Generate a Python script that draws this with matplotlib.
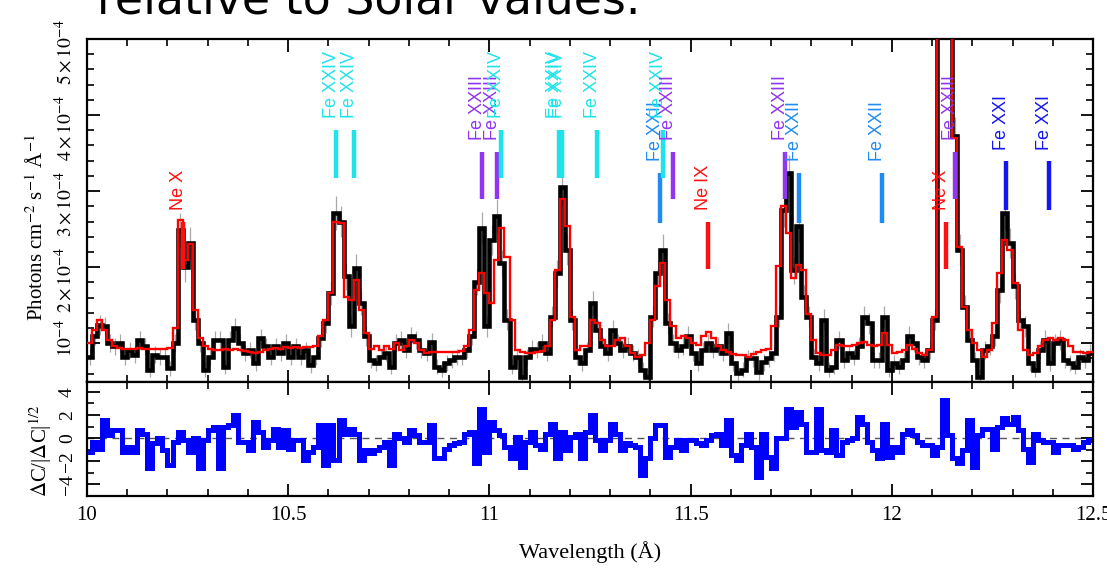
import numpy as np
import matplotlib
matplotlib.use('Agg')
import matplotlib.pyplot as plt
from matplotlib.ticker import MultipleLocator, FixedLocator
from matplotlib.transforms import ScaledTranslation

plt.rcParams['mathtext.fontset'] = 'stix'

# ---- data (flux in units of 1e-4 photons cm^-2 s^-1 A^-1) ----
wl_start = 10.0
bin_width = 0.0125

flux = [0.82, 1.09, 1.24, 1.22, 1.00, 0.96, 1.00, 0.82, 0.91, 0.85,
        1.04, 0.96, 0.65, 0.85, 0.82, 0.82, 0.67, 1.00, 2.49, 2.00,
        2.32, 1.31, 1.00, 0.65, 0.82, 1.04, 1.04, 0.69, 1.04, 1.20,
        1.00, 0.87, 0.91, 0.74, 1.07, 0.96, 0.82, 0.96, 0.87, 1.00,
        0.82, 0.96, 0.82, 0.91, 0.71, 0.82, 1.07, 1.26, 1.66, 2.71,
        2.60, 1.88, 1.22, 1.99, 1.53, 1.09, 0.78, 0.74, 0.82, 0.87,
        0.69, 1.00, 1.04, 0.91, 1.09, 1.04, 0.91, 0.87, 1.02, 0.69,
        0.65, 0.74, 0.78, 0.82, 0.82, 0.91, 1.09, 1.80, 2.52, 1.22,
        2.36, 2.67, 2.05, 1.31, 0.69, 0.82, 0.56, 0.82, 0.93, 0.91,
        1.00, 0.87, 1.35, 1.92, 3.06, 2.23, 1.31, 0.82, 0.74, 0.91,
        1.53, 1.18, 0.96, 0.87, 1.18, 1.00, 0.91, 0.96, 0.87, 0.82,
        0.65, 0.56, 1.35, 1.92, 2.23, 1.26, 1.00, 0.91, 0.96, 1.09,
        0.87, 0.74, 0.91, 1.00, 0.91, 0.96, 0.87, 1.13, 0.74, 0.61,
        0.65, 0.80, 0.80, 0.62, 0.75, 0.80, 0.87, 1.35, 2.75, 3.24,
        1.96, 2.54, 1.61, 1.35, 0.82, 0.74, 1.31, 0.65, 0.69, 1.04,
        0.78, 0.87, 0.82, 0.96, 1.35, 1.26, 0.78, 0.78, 1.35, 0.65,
        0.74, 0.69, 0.78, 1.09, 1.00, 0.82, 0.78, 0.91, 1.31, 6.00,
        6.00, 6.00, 3.72, 2.23, 1.48, 1.04, 0.78, 0.56, 0.91, 0.96,
        1.09, 1.70, 2.71, 2.32, 1.75, 1.31, 1.22, 0.74, 0.65, 0.91,
        1.04, 0.74, 1.00, 1.04, 0.78, 0.74, 0.69, 0.82, 0.78, 0.87]

flux_err = [0.11, 0.12, 0.13, 0.13, 0.12, 0.11, 0.12, 0.11, 0.11, 0.11,
            0.12, 0.11, 0.10, 0.11, 0.11, 0.11, 0.10, 0.12, 0.22, 0.20,
            0.21, 0.14, 0.12, 0.10, 0.11, 0.12, 0.12, 0.10, 0.12, 0.13,
            0.12, 0.11, 0.11, 0.10, 0.12, 0.11, 0.11, 0.11, 0.11, 0.12,
            0.11, 0.11, 0.11, 0.11, 0.10, 0.11, 0.12, 0.13, 0.16, 0.22,
            0.21, 0.18, 0.14, 0.18, 0.16, 0.13, 0.11, 0.10, 0.11, 0.11,
            0.10, 0.12, 0.12, 0.11, 0.12, 0.12, 0.11, 0.11, 0.12, 0.10,
            0.10, 0.10, 0.11, 0.11, 0.11, 0.11, 0.12, 0.17, 0.21, 0.14,
            0.20, 0.22, 0.18, 0.14, 0.10, 0.11, 0.09, 0.11, 0.11, 0.11,
            0.12, 0.11, 0.14, 0.18, 0.24, 0.20, 0.14, 0.11, 0.10, 0.11,
            0.16, 0.13, 0.12, 0.11, 0.13, 0.12, 0.11, 0.12, 0.11, 0.11,
            0.10, 0.09, 0.14, 0.18, 0.20, 0.14, 0.12, 0.11, 0.12, 0.13,
            0.11, 0.10, 0.11, 0.12, 0.11, 0.12, 0.11, 0.13, 0.10, 0.10,
            0.10, 0.11, 0.11, 0.10, 0.11, 0.11, 0.11, 0.14, 0.22, 0.24,
            0.18, 0.21, 0.16, 0.14, 0.11, 0.10, 0.14, 0.10, 0.10, 0.12,
            0.11, 0.11, 0.11, 0.12, 0.14, 0.14, 0.11, 0.11, 0.14, 0.10,
            0.11, 0.10, 0.11, 0.13, 0.12, 0.11, 0.11, 0.12, 0.14, 0.35,
            0.35, 0.35, 0.25, 0.20, 0.16, 0.13, 0.11, 0.10, 0.12, 0.12,
            0.13, 0.17, 0.22, 0.20, 0.17, 0.14, 0.14, 0.11, 0.10, 0.12,
            0.13, 0.11, 0.12, 0.13, 0.11, 0.11, 0.10, 0.11, 0.11, 0.12]

model = [1.00, 1.18, 1.31, 1.18, 1.04, 0.96, 0.94, 0.93, 0.93, 0.93,
         0.94, 0.93, 0.93, 0.92, 0.93, 0.93, 0.94, 1.20, 2.62, 2.10,
         2.30, 1.44, 1.07, 0.96, 0.92, 0.91, 0.91, 0.92, 0.91, 0.92,
         0.91, 0.90, 0.88, 0.87, 0.89, 0.91, 0.93, 0.94, 0.93, 0.95,
         0.94, 0.95, 0.94, 0.95, 0.95, 0.96, 1.09, 1.31, 1.66, 2.60,
         2.58, 1.61, 1.57, 1.83, 1.44, 1.13, 0.93, 0.96, 0.91, 0.96,
         0.93, 1.00, 0.91, 0.96, 1.04, 1.00, 0.91, 0.87, 0.88, 0.88,
         0.88, 0.88, 0.88, 0.89, 0.90, 0.96, 1.18, 1.70, 1.92, 1.66,
         1.53, 2.10, 2.52, 2.14, 1.31, 0.91, 0.88, 0.87, 0.87, 0.88,
         0.90, 0.96, 1.31, 1.96, 2.89, 2.54, 1.35, 0.91, 0.96, 0.96,
         1.31, 1.26, 1.04, 0.96, 0.96, 1.04, 1.07, 0.96, 0.87, 0.82,
         0.85, 1.00, 1.31, 1.75, 2.05, 1.57, 1.22, 1.07, 1.09, 1.07,
         1.00, 0.98, 1.09, 1.15, 1.07, 0.96, 0.91, 0.89, 0.86, 0.85,
         0.85, 0.82, 0.86, 0.88, 0.91, 0.93, 1.22, 2.01, 2.80, 2.45,
         1.86, 2.03, 1.96, 1.39, 1.04, 0.87, 0.85, 0.85, 0.91, 0.98,
         0.96, 0.96, 0.98, 1.00, 1.02, 0.98, 0.96, 0.98, 1.13, 0.98,
         0.87, 0.89, 0.91, 0.98, 0.93, 0.87, 0.85, 0.91, 1.35, 6.50,
         7.00, 6.50, 3.70, 2.27, 1.48, 1.18, 1.00, 0.91, 0.82, 0.91,
         1.26, 1.92, 2.36, 2.23, 1.79, 1.18, 0.91, 0.85, 0.87, 0.96,
         1.04, 1.07, 1.04, 1.07, 1.04, 0.96, 0.89, 0.89, 0.87, 0.89]

resid = [-1.20, -0.30, -0.90, 1.55, 0.26, 0.69, 0.69, -1.18, -0.75, -1.18,
         0.69, 0.40, -2.60, -0.46, 0.00, -1.03, -2.33, -0.30, 0.55, -0.17,
         -1.18, 0.00, -2.60, -0.17, 0.69, 0.98, -2.60, 0.98, 1.12, 1.98,
         -0.30, -0.30, -1.03, 1.41, 0.55, -0.75, -0.17, 0.83, -0.75, 0.69,
         -0.90, -0.17, -0.17, -1.90, -1.18, -0.75, 1.12, -2.33, 1.12, -1.90,
         1.55, 0.40, 0.83, 0.40, -1.90, -1.03, -1.32, -1.03, -0.75, -0.30,
         -2.33, 0.40, 0.00, -0.30, 0.69, 0.26, -0.30, -0.30, 1.12, -1.75,
         -1.75, -0.90, -0.60, -0.46, -0.30, 0.40, 0.55, -2.18, 2.56, -1.18,
         1.41, 0.69, 0.26, -0.75, -1.75, 0.11, -2.47, -0.30, 0.55, -0.60,
         -0.90, 0.40, 1.26, -1.75, 0.55, -1.03, 0.11, 0.40, -1.75, 0.55,
         1.98, -0.17, -1.03, -0.17, 1.26, 0.40, -1.03, -0.46, -0.60, -0.75,
         -3.19, -1.75, 0.00, 1.12, 1.12, -1.60, -0.75, -0.17, -1.03, -0.17,
         -0.17, -0.46, -0.60, -0.17, 0.26, 0.40, -0.60, 1.55, -1.47, -1.90,
         -0.60, 0.40, -0.75, -3.33, 0.40, -1.60, -2.60, 0.00, 0.00, 2.56,
         1.00, 2.27, 1.26, -1.18, -1.18, 2.56, -1.03, -1.18, 0.69, -1.47,
         -0.30, -0.17, 0.00, 1.84, 1.26, -0.30, -1.03, -1.75, 1.26, -1.60,
         -0.75, -1.18, 0.40, 0.69, 0.26, -0.30, -0.60, -0.60, -1.47, -0.75,
         3.28, 0.26, -1.75, -2.18, -1.03, 1.55, -2.47, 0.26, 0.83, 0.83,
         -0.90, 0.98, 1.70, 1.26, 1.84, 0.69, -0.90, -2.04, 0.40, -0.17,
         -0.30, -0.30, -1.18, -0.60, -0.60, -0.60, -0.90, -0.75, -0.30, -0.17]

line_wl = [10.238, 10.619, 10.663, 10.981, 11.019, 11.029, 11.172, 11.181,
           11.268, 11.424, 11.432, 11.457, 11.544, 11.735, 11.769, 11.976,
           12.134, 12.158, 12.284, 12.390]
line_ion = ['Ne X', 'Fe XXIV', 'Fe XXIV', 'Fe XXIII', 'Fe XXIII', 'Fe XXIV',
            'Fe XXIV', 'Fe XXIV', 'Fe XXIV', 'Fe XXII', 'Fe XXIV', 'Fe XXIII',
            'Ne IX', 'Fe XXIII', 'Fe XXII', 'Fe XXII', 'Ne X', 'Fe XXIII',
            'Fe XXI', 'Fe XXI']

x_ticks = [10, 10.5, 11, 11.5, 12, 12.5]
x_ticklabels = ['10', '10.5', '11', '11.5', '12', '12.5']
y_ticks = [1e-4, 2e-4, 3e-4, 4e-4, 5e-4]
y_ticklabels = [r'$10^{-4}$', r'$2\times10^{-4}$', r'$3\times10^{-4}$',
                r'$4\times10^{-4}$', r'$5\times10^{-4}$']
r_ticks = [-4, -2, 0, 2, 4]
r_ticklabels = ['\u22124', '\u22122', '0', '2', '4']

# ---- styles ----
ion_style = {
    'Ne X':     ('#ff1010', 1.97, 2.60),
    'Ne IX':    ('#ff1010', 1.97, 2.60),
    'Fe XXIV':  ('#1fe3ea', 3.17, 3.81),
    'Fe XXIII': ('#9035f0', 2.89, 3.52),
    'Fe XXII':  ('#1f8cf5', 2.58, 3.24),
    'Fe XXI':   ('#1515f0', 2.75, 3.39),
}
SC = 1e-4
serif = ['Liberation Serif', 'DejaVu Serif']

flux = np.array(flux) * SC
flux_err = np.array(flux_err) * SC
model = np.array(model) * SC
resid = np.array(resid)
n = len(flux)
edges = wl_start + bin_width * np.arange(n + 1)
centers = 0.5 * (edges[:-1] + edges[1:])

W, H = 1107, 575
fig = plt.figure(figsize=(W / 100, H / 100), dpi=100)
ax1 = fig.add_axes([87 / W, 1 - 382 / H, 1006 / W, 343 / H])
ax2 = fig.add_axes([87 / W, 1 - 496 / H, 1006 / W, 114 / H])

# upper panel
ax1.errorbar(centers, flux, yerr=flux_err, fmt='none', ecolor='#a8a8a8',
             elinewidth=0.9, zorder=1)
ax1.stairs(flux, edges, baseline=None, color='black', lw=3.3, zorder=2)
ax1.stairs(model, edges, baseline=None, color='#ff0000', lw=1.7, zorder=3)

for wl, ion in zip(line_wl, line_ion):
    c, lo, hi = ion_style[ion]
    ax1.plot([wl, wl], [lo * SC, hi * SC], color=c, lw=3.2,
             solid_capstyle='butt', zorder=4)
    ax1.text(wl, (hi + 0.15) * SC, ion, rotation=90, rotation_mode='anchor',
             ha='left', va='baseline', color=c, fontsize=13,
             family=['Liberation Sans', 'DejaVu Sans'], zorder=5)

ax1.set_xlim(10, 12.5)
ax1.set_ylim(0.49e-4, 5e-4)
ax1.xaxis.set_major_locator(FixedLocator(x_ticks))
ax1.xaxis.set_minor_locator(MultipleLocator(0.1))
ax1.yaxis.set_major_locator(FixedLocator(y_ticks))
ax1.yaxis.set_minor_locator(MultipleLocator(0.2e-4))
ax1.set_yticklabels(y_ticklabels, rotation=90, va='center', fontsize=14)
ax1.tick_params(which='both', direction='in', top=True, right=True,
                labelbottom=False)
ax1.tick_params(which='major', length=9, width=1.3, pad=8)
ax1.tick_params(which='minor', length=5, width=1.2)
offs = [5, -13, -13, -13, -13]
for lab, o in zip(ax1.get_yticklabels(), offs):
    lab.set_transform(lab.get_transform() + ScaledTranslation(0, o / 100, fig.dpi_scale_trans))
ax1.set_ylabel(r'Photons cm$^{-2}$ s$^{-1}$ Å$^{-1}$', fontsize=15, family=serif)
ax1.yaxis.set_label_coords(-0.039, 0.45)

# lower panel
ax2.axhline(0, ls=(0, (5, 4)), color='#555555', lw=1.0, zorder=1)
ax2.stairs(resid, edges, baseline=None, color='#0000ff', lw=3.6, zorder=2)
ax2.set_xlim(10, 12.5)
ax2.set_ylim(-5, 4.85)
ax2.xaxis.set_major_locator(FixedLocator(x_ticks))
ax2.xaxis.set_minor_locator(MultipleLocator(0.1))
ax2.set_xticklabels(x_ticklabels, fontsize=15, family=serif)
ax2.yaxis.set_major_locator(FixedLocator(r_ticks))
ax2.yaxis.set_minor_locator(MultipleLocator(1))
ax2.set_yticklabels(r_ticklabels, rotation=90, va='center', fontsize=14, family=serif)
ax2.tick_params(which='both', direction='in', top=True, right=True)
ax2.tick_params(which='major', length=9, width=1.3, pad=8)
ax2.tick_params(axis='x', which='major', pad=7)
ax2.tick_params(which='minor', length=5, width=1.2)
ax2.set_xlabel('Wavelength (Å)', fontsize=16, family=serif, labelpad=12)
ax2.set_ylabel(r'$\Delta$C/|$\Delta$C|$^{1/2}$', fontsize=15, family=serif)
ax2.yaxis.set_label_coords(-0.033, 0.4)

for ax in (ax1, ax2):
    for s in ax.spines.values():
        s.set_linewidth(1.6)

fig.text(97 / W, 1 - 14 / H, 'relative to Solar values.', fontsize=33,
         family='DejaVu Sans', ha='left', va='baseline')

fig.savefig('out.png', dpi=100)
